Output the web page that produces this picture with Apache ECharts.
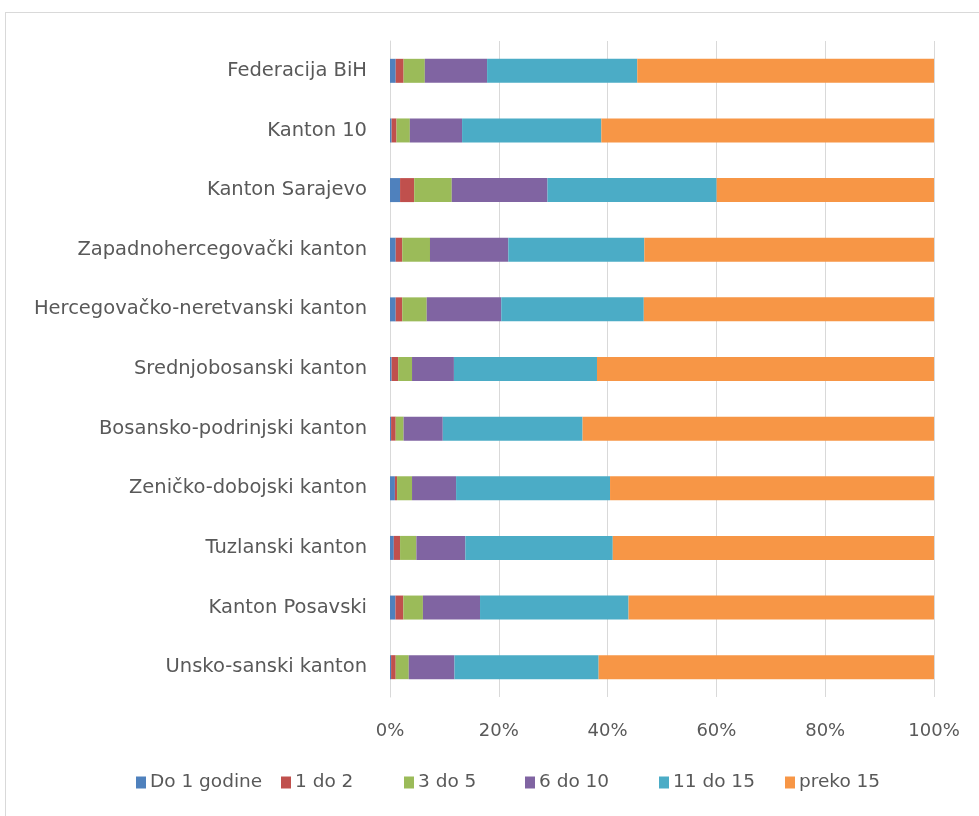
<!DOCTYPE html>
<html>
<head>
<meta charset="utf-8">
<script src="https://cdn.jsdelivr.net/npm/echarts@6/dist/echarts.min.js"></script>
<style>
  html, body { margin: 0; padding: 0; background: #fff; }
  #frame { position: absolute; left: 5px; top: 12px; width: 980px; height: 805px; border: 1px solid #d9d9d9; box-sizing: border-box; }
  #chart { position: absolute; left: 0; top: 0; width: 979px; height: 816px; }
</style>
</head>
<body>
<div id="frame"></div>
<div id="chart"></div>
<script>
// categories top to bottom as in the picture
var categories = [
  'Federacija BiH',
  'Kanton 10',
  'Kanton Sarajevo',
  'Zapadnohercegovački kanton',
  'Hercegovačko-neretvanski kanton',
  'Srednjobosanski kanton',
  'Bosansko-podrinjski kanton',
  'Zeničko-dobojski kanton',
  'Tuzlanski kanton',
  'Kanton Posavski',
  'Unsko-sanski kanton'
];
var seriesNames = ['Do 1 godine', '1 do 2', '3 do 5', '6 do 10', '11 do 15', 'preko 15'];
var do1 = [1.05, 0.3, 1.85, 1.05, 1.05, 0.3, 0.2, 0.9, 0.7, 1.0, 0.2];
var od1do2 = [1.45, 0.9, 2.6, 1.2, 1.2, 1.2, 0.85, 0.4, 1.15, 1.45, 0.85];
var od3do5 = [3.9, 2.45, 6.9, 5.1, 4.5, 2.55, 1.45, 2.75, 3.0, 3.6, 2.4];
var od6do10 = [11.45, 9.6, 17.6, 14.4, 13.7, 7.7, 7.2, 8.1, 9.0, 10.5, 8.4];
var od11do15 = [27.6, 25.6, 31.1, 25.0, 26.2, 26.3, 25.7, 28.3, 27.1, 27.3, 26.5];
var preko15 = [54.55, 61.15, 39.95, 53.25, 53.35, 61.95, 64.6, 59.55, 59.05, 56.15, 61.65];
var xTicks = [0, 20, 40, 60, 80, 100];

var colors = ['#4F81BD', '#C0504D', '#9BBB59', '#8064A2', '#4BACC6', '#F79646'];
var allData = [do1, od1do2, od3do5, od6do10, od11do15, preko15];
var font = 'DejaVu Sans';
// legend item left edges, spread like the original
var legendLefts = [136, 281, 404, 525, 659, 785];

var series = seriesNames.map(function (name, i) {
  return {
    name: name,
    type: 'bar',
    stack: 'total',
    barWidth: 24,
    itemStyle: { color: colors[i] },
    data: allData[i]
  };
});

var legends = seriesNames.map(function (name, i) {
  return {
    data: [name],
    left: legendLefts[i],
    top: 773,
    padding: 0,
    icon: 'rect',
    itemWidth: 10,
    itemHeight: 12,
    textStyle: { color: '#595959', fontSize: 18.5, fontFamily: font, padding: [0, 0, 0, -1] }
  };
});

echarts.init(document.getElementById('chart')).setOption({
  animation: false,
  color: colors,
  grid: { left: 390, right: 45, top: 41, bottom: 119, containLabel: false },
  xAxis: {
    type: 'value',
    min: xTicks[0],
    max: xTicks[xTicks.length - 1],
    interval: 20,
    axisLine: { show: false },
    axisTick: { show: false },
    splitLine: { lineStyle: { color: '#d9d9d9', width: 1 } },
    axisLabel: { formatter: '{value}%', color: '#595959', fontSize: 18, fontFamily: font, margin: 25 }
  },
  yAxis: {
    type: 'category',
    inverse: true,
    data: categories,
    axisLine: { show: true, lineStyle: { color: '#d9d9d9' } },
    axisTick: { show: false },
    axisLabel: { color: '#595959', fontSize: 19.5, fontFamily: font, margin: 23 }
  },
  legend: legends,
  series: series
});
</script>
</body>
</html>
